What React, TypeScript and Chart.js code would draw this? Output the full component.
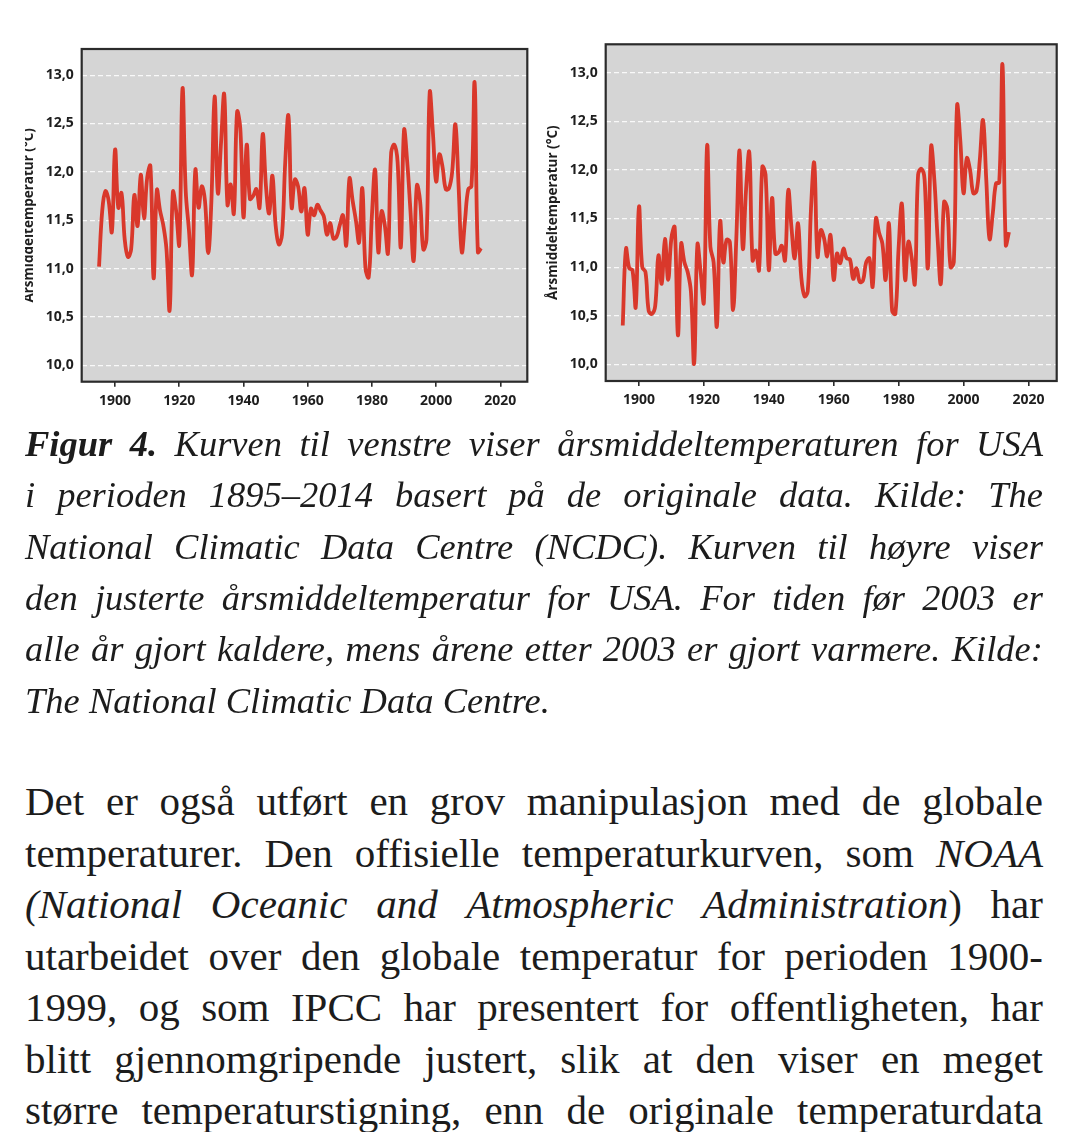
import React, { useEffect, useRef } from "react";
import { Chart, registerables } from "chart.js";

Chart.register(...registerables);

// ---------- DATA ----------
const years = [
  1895, 1896, 1897, 1898, 1899, 1900, 1901, 1902, 1903, 1904,
  1905, 1906, 1907, 1908, 1909, 1910, 1911, 1912, 1913, 1914,
  1915, 1916, 1917, 1918, 1919, 1920, 1921, 1922, 1923, 1924,
  1925, 1926, 1927, 1928, 1929, 1930, 1931, 1932, 1933, 1934,
  1935, 1936, 1937, 1938, 1939, 1940, 1941, 1942, 1943, 1944,
  1945, 1946, 1947, 1948, 1949, 1950, 1951, 1952, 1953, 1954,
  1955, 1956, 1957, 1958, 1959, 1960, 1961, 1962, 1963, 1964,
  1965, 1966, 1967, 1968, 1969, 1970, 1971, 1972, 1973, 1974,
  1975, 1976, 1977, 1978, 1979, 1980, 1981, 1982, 1983, 1984,
  1985, 1986, 1987, 1988, 1989, 1990, 1991, 1992, 1993, 1994,
  1995, 1996, 1997, 1998, 1999, 2000, 2001, 2002, 2003, 2004,
  2005, 2006, 2007, 2008, 2009, 2010, 2011, 2012, 2013, 2014,
];

// Left: original data
const originalTemps = [
  11.02, 11.6, 11.8, 11.7, 11.38, 12.23, 11.63, 11.78, 11.3, 11.12,
  11.2, 11.76, 11.44, 11.97, 11.52, 11.94, 12.06, 10.9, 11.81, 11.6,
  11.45, 11.2, 10.57, 11.79, 11.6, 11.25, 12.86, 11.8, 11.4, 10.94,
  12.02, 11.63, 11.85, 11.7, 11.16, 11.7, 12.78, 11.78, 12.3, 12.8,
  11.66, 11.87, 11.57, 12.62, 12.45, 11.53, 12.28, 11.72, 11.75, 11.82,
  11.63, 12.39, 11.85, 11.57, 11.96, 11.45, 11.25, 11.35, 12.1, 12.58,
  11.63, 11.92, 11.85, 11.59, 11.83, 11.35, 11.62, 11.55, 11.66, 11.6,
  11.54, 11.35, 11.47, 11.31, 11.33, 11.45, 11.55, 11.24, 11.93, 11.7,
  11.5, 11.27, 11.83, 11.0, 10.91, 11.55, 12.02, 11.17, 11.59, 11.45,
  11.16, 12.2, 12.28, 12.1, 11.22, 12.43, 12.1, 11.6, 11.08, 11.86,
  11.7, 11.2, 11.3, 12.82, 12.4, 11.9, 12.18, 12.05, 11.82, 11.83,
  12.0, 12.49, 11.85, 11.17, 11.5, 11.82, 11.85, 12.92, 11.17, 11.21,
];

// Right: adjusted data
const adjustedTemps = [
  10.4, 11.19, 10.99, 10.97, 10.59, 11.62, 11.0, 10.95, 10.55, 10.52,
  10.6, 11.12, 10.83, 11.29, 10.87, 11.3, 11.41, 10.3, 11.24, 11.05,
  10.95, 10.75, 10.01, 11.23, 10.95, 10.64, 12.25, 11.21, 11.05, 10.39,
  11.47, 11.05, 11.28, 11.26, 10.56, 11.3, 12.2, 11.19, 11.8, 12.18,
  11.07, 11.17, 10.97, 12.03, 11.95, 10.97, 11.71, 11.14, 11.15, 11.22,
  11.07, 11.79, 11.4, 11.09, 11.45, 10.9, 10.7, 10.75, 11.6, 12.07,
  11.11, 11.38, 11.3, 11.11, 11.33, 10.87, 11.14, 11.04, 11.19, 11.09,
  11.08, 10.88, 10.99, 10.85, 10.86, 11.05, 11.09, 10.8, 11.5, 11.35,
  11.24, 10.87, 11.45, 10.55, 10.52, 11.2, 11.65, 10.87, 11.26, 11.1,
  10.83, 11.95, 12.01, 11.9, 10.99, 12.24, 11.9, 11.3, 10.83, 11.67,
  11.6, 11.0, 11.05, 12.66, 12.3, 11.76, 12.12, 12.0, 11.76, 11.78,
  12.1, 12.51, 11.9, 11.29, 11.55, 11.86, 11.87, 13.08, 11.23, 11.36,
];

const xTickValues = [1900, 1920, 1940, 1960, 1980, 2000, 2020];
const yTickValues = [10.0, 10.5, 11.0, 11.5, 12.0, 12.5, 13.0];
const yAxisTitle = "Årsmiddeltemperatur (°C)";

// ---------- CHART ----------
type ChartProps = {
  values: number[];
  width: number;
  height: number;
  xMin: number;
  xMax: number;
  yMin: number;
  yMax: number;
  padTop: number;
  padRight: number;
  yAxisWidth: number;
  xAxisHeight: number;
  titlePad: number;
};

const sansFamily = "'Open Sans', 'Noto Sans', sans-serif";
const inkColor = "#1e1e1e";

function TempChart(p: ChartProps) {
  const ref = useRef<HTMLCanvasElement | null>(null);

  useEffect(() => {
    if (!ref.current) return;
    const framePlugin = {
      id: "frame",
      beforeDraw(chart: any) {
        const { ctx, chartArea: a } = chart;
        ctx.save();
        ctx.fillStyle = "#d5d5d5";
        ctx.fillRect(a.left, a.top, a.right - a.left, a.bottom - a.top);
        ctx.restore();
      },
      afterDraw(chart: any) {
        const { ctx, chartArea: a } = chart;
        ctx.save();
        ctx.strokeStyle = "#2b2b2b";
        ctx.lineWidth = 2.2;
        ctx.strokeRect(a.left, a.top, a.right - a.left, a.bottom - a.top);
        ctx.restore();
      },
    };

    const chart = new Chart(ref.current, {
      type: "line",
      data: {
        datasets: [
          {
            data: years.map((yr, i) => ({ x: yr, y: p.values[i] })),
            borderColor: "#d9382b",
            borderWidth: 3.8,
            tension: 0.4,
            pointRadius: 0,
            fill: false,
          },
        ],
      },
      options: {
        animation: false,
        responsive: false,
        events: [],
        layout: {
          padding: { top: p.padTop, right: p.padRight, left: 0, bottom: 0 },
        },
        plugins: {
          legend: { display: false },
          tooltip: { enabled: false },
        },
        scales: {
          x: {
            type: "linear",
            min: p.xMin,
            max: p.xMax,
            afterBuildTicks: (s: any) => {
              s.ticks = xTickValues.map((v) => ({ value: v }));
            },
            afterFit: (s: any) => {
              s.height = p.xAxisHeight;
            },
            ticks: {
              callback: (v: any) => String(v),
              autoSkip: false,
              maxRotation: 0,
              padding: 6,
              color: inkColor,
              font: { family: sansFamily, size: 14, weight: "bold" },
            },
            grid: {
              drawOnChartArea: false,
              drawTicks: true,
              tickLength: 5,
              color: "#2b2b2b",
              lineWidth: 1.6,
            },
            border: { display: false },
          },
          y: {
            type: "linear",
            min: p.yMin,
            max: p.yMax,
            afterBuildTicks: (s: any) => {
              s.ticks = yTickValues.map((v) => ({ value: v }));
            },
            afterFit: (s: any) => {
              s.width = p.yAxisWidth;
            },
            ticks: {
              callback: (v: any) => Number(v).toFixed(1).replace(".", ","),
              padding: 8,
              color: inkColor,
              font: { family: sansFamily, size: 14, weight: "bold" },
            },
            grid: {
              color: "rgba(255,255,255,0.85)",
              lineWidth: 1.2,
              drawTicks: false,
            },
            border: { display: false, dash: [5, 3] },
            title: {
              display: true,
              text: yAxisTitle,
              color: inkColor,
              font: { family: sansFamily, size: 13.5, weight: "bold" },
              padding: { top: p.titlePad, bottom: 0 },
            },
          },
        },
      },
      plugins: [framePlugin],
    } as any);

    return () => chart.destroy();
  }, []);

  return (
    <canvas
      ref={ref}
      width={p.width}
      height={p.height}
      style={{ width: p.width, height: p.height, display: "block" }}
    />
  );
}

// ---------- TEXT ----------
const serif = "'Liberation Serif', 'Times New Roman', serif";

function words(s: string): React.ReactNode[] {
  return s.split(" ");
}

function JLine({ items, justify = true }: { items: React.ReactNode[]; justify?: boolean }) {
  return (
    <div
      style={{
        display: "flex",
        justifyContent: justify ? "space-between" : "flex-start",
        alignItems: "baseline",
        whiteSpace: "pre",
      }}
    >
      {items.map((it, i) => (
        <span key={i}>
          {it}
          {i < items.length - 1 ? " " : ""}
        </span>
      ))}
    </div>
  );
}

const captionLines: React.ReactNode[][] = [
  [<b>Figur</b>, <b>4.</b>, ...words("Kurven til venstre viser årsmiddeltemperaturen for USA")],
  words("i perioden 1895–2014 basert på de originale data. Kilde: The"),
  words("National Climatic Data Centre (NCDC). Kurven til høyre viser"),
  words("den justerte årsmiddeltemperatur for USA. For tiden før 2003 er"),
  words("alle år gjort kaldere, mens årene etter 2003 er gjort varmere. Kilde:"),
];
const captionLast = "The National Climatic Data Centre.";

const bodyLines: React.ReactNode[][] = [
  words("Det er også utført en grov manipulasjon med de globale"),
  [...words("temperaturer. Den offisielle temperaturkurven, som"), <i>NOAA</i>],
  [
    <i>(National</i>,
    <i>Oceanic</i>,
    <i>and</i>,
    <i>Atmospheric</i>,
    <>
      <i>Administration</i>)
    </>,
    "har",
  ],
  words("utarbeidet over den globale temperatur for perioden 1900-"),
  words("1999, og som IPCC har presentert for offentligheten, har"),
  words("blitt gjennomgripende justert, slik at den viser en meget"),
  words("større temperaturstigning, enn de originale temperaturdata"),
];

export default function App() {
  return (
    <div
      style={{
        position: "absolute",
        left: 0,
        top: 0,
        width: 1076,
        height: 1132,
        overflow: "hidden",
        background: "#ffffff",
      }}
    >
      {/* Left chart (clipped at its left edge as in the page) */}
      <div
        style={{
          position: "absolute",
          left: 25,
          top: 0,
          width: 511,
          height: 420,
          overflow: "hidden",
        }}
      >
        <div style={{ position: "absolute", left: -25, top: 0 }}>
          <TempChart
            values={originalTemps}
            width={536}
            height={420}
            xMin={1889.6}
            xMax={2028.4}
            yMin={9.83}
            yMax={13.27}
            padTop={49}
            padRight={8.7}
            yAxisWidth={81.7}
            xAxisHeight={38.3}
            titlePad={20.9}
          />
        </div>
      </div>

      {/* Right chart */}
      <div style={{ position: "absolute", left: 536, top: 0 }}>
        <TempChart
          values={adjustedTemps}
          width={540}
          height={420}
          xMin={1889.75}
          xMax={2028.7}
          yMin={9.83}
          yMax={13.29}
          padTop={44.3}
          padRight={19.3}
          yAxisWidth={69.7}
          xAxisHeight={39}
          titlePad={8.9}
        />
      </div>

      {/* Caption */}
      <div
        style={{
          position: "absolute",
          left: 25,
          top: 417.8,
          width: 1018,
          fontFamily: serif,
          fontSize: 36.5,
          lineHeight: "51.4px",
          fontStyle: "italic",
          color: "#1c1c1c",
        }}
      >
        {captionLines.map((l, i) => (
          <JLine key={i} items={l} />
        ))}
        <div>{captionLast}</div>
      </div>

      {/* Body text */}
      <div
        style={{
          position: "absolute",
          left: 25,
          top: 776.4,
          width: 1018,
          fontFamily: serif,
          fontSize: 41,
          lineHeight: "51.5px",
          color: "#1c1c1c",
        }}
      >
        {bodyLines.map((l, i) => (
          <JLine key={i} items={l} />
        ))}
      </div>
    </div>
  );
}
